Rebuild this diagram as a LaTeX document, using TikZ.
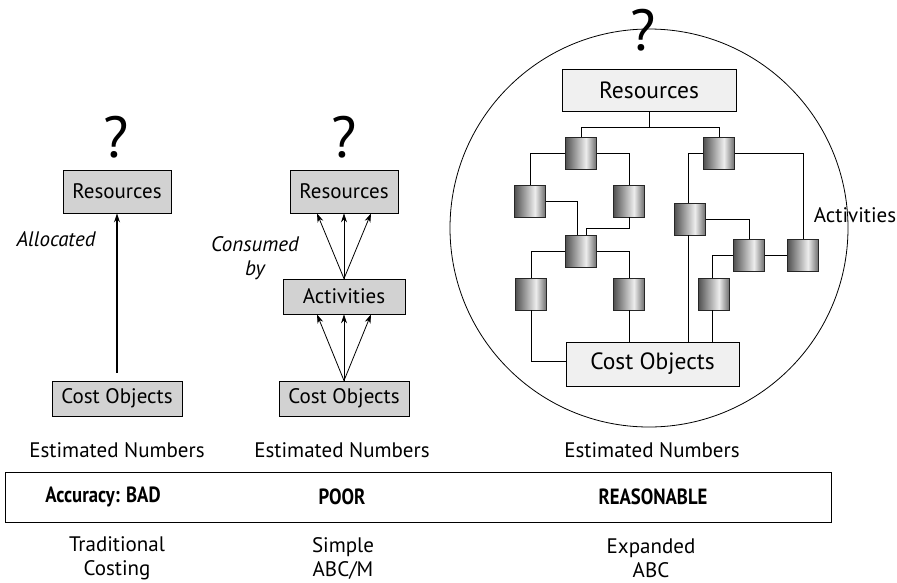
\documentclass[tikz,border=0pt]{standalone}
\usepackage{fontspec}
\setmainfont{PT Sans}
\usetikzlibrary{arrows.meta}

\pgfdeclarehorizontalshading{actshade}{100bp}{rgb(0bp)=(0.32,0.32,0.32); rgb(25bp)=(0.32,0.32,0.32); rgb(58bp)=(0.93,0.93,0.93); rgb(75bp)=(0.42,0.42,0.42); rgb(100bp)=(0.42,0.42,0.42)}

\tikzset{
	grey box/.style={draw,fill=gray!35,inner sep=0,font=\fontsize{21}{25}\selectfont},
	light box/.style={draw,fill=gray!12,inner sep=0,font=\fontsize{23.5}{27}\selectfont},
	act/.style={draw=black!85,shading=actshade,minimum width=31,minimum height=32,inner sep=0},
	query/.style={font=\fontsize{58}{62}\selectfont},
	caption/.style={font=\fontsize{21}{24}\selectfont,align=center},
	rating/.style={font=\fontsize{22}{26}\selectfont\bfseries},
	link/.style={-{Stealth[length=9,width=6]}}
}

\begin{document}
\begin{tikzpicture}[x=1pt,y=-1pt,line width=0.8]
\useasboundingbox (0,0) rectangle (897,582);

% Traditional costing:

\node[query] (Q1) at (116,137) {?};
\node[grey box,minimum width=108,minimum height=43] (R1) at (117,191.5) {Resources};
\node[grey box,minimum width=130,minimum height=35] (C1) at (117,398.5) {Cost Objects};
\draw[link,line width=1.5] ([yshift=8]C1.north) -- (R1.south);
\node[caption,font=\fontsize{21}{24}\selectfont\itshape] (L1) at (56,239) {Allocated};

% Simple ABC/M:

\node[query] (Q2) at (344,137) {?};
\node[grey box,minimum width=108,minimum height=43] (R2) at (344,191.5) {Resources};
\node[grey box,minimum width=122,minimum height=35] (V2) at (344,296.5) {Activities};
\node[grey box,minimum width=130,minimum height=35] (C2) at (344,398.5) {Cost Objects};
\foreach \s in {-27,0,27} {
	\draw[link] (V2.north) -- ([xshift=\s]R2.south);
	\draw[link] (C2.north) -- ([xshift=\s]V2.south);
}
\node[caption,font=\fontsize{21}{24}\selectfont\itshape] (L2) at (255,258) {Consumed\\by};

% Expanded ABC:

\node[draw,circle,minimum size=398,inner sep=0] (E) at (649,228) {};
\node[query] (Q3) at (643,30) {?};
\node[light box,minimum width=174,minimum height=42] (R3) at (649,90) {Resources};
\node[light box,minimum width=173,minimum height=44] (C3) at (652.5,364) {Cost Objects};
\node[caption] (L3) at (855,215) {Activities};

\foreach \n/\x/\y in {1/581/153, 2/719/153, 3/530/201, 4/629/201, 5/581/251, 6/690/219,
	7/749/255, 8/803/255, 9/531/294, 10/629/294, 11/714/294} {
	\node[act] (A\n) at (\x,\y) {};
}

\draw (R3.south) -- ++(0,16) coordinate (J);
\draw (A1.north) |- (J) -| (A2.north);
\draw (A1.west) -| (A3.north);
\draw (A1.east) -| (A4.north);
\draw (A3.east) -| ([xshift=-4]A5.north);
\draw (A4.south) -- ++(0,11) -| ([xshift=5]A5.north);
\draw (A5.west) -| (A9.north);
\draw (A5.east) -| (A10.north);
\draw ([yshift=3]C3.west) -| (A9.south);
\draw (A10.south) -- (A10.south |- C3.north);
\draw (A2.west) -| ([xshift=-2]A6.north);
\draw ([xshift=-2]A6.south) -- ([xshift=-2]A6.south |- C3.north);
\draw (A2.east) -| (A8.north);
\draw (A6.east) -| (A7.north);
\draw (A7.east) -- (A8.west);
\draw (A7.west) -| ([xshift=-2]A11.north);
\draw ([xshift=-2]A11.south) -- ([xshift=-2]A11.south |- C3.north);

% Bottom rows:

\node[caption] (N1) at (117,450) {Estimated Numbers};
\node[caption] (N2) at (342,450) {Estimated Numbers};
\node[caption] (N3) at (652,450) {Estimated Numbers};

\node[draw,minimum width=826,minimum height=50,inner sep=0] (band) at (418,497) {};
\node[rating] (G1) at (103,497) {\scalebox{0.85}[1]{Accuracy: BAD}};
\node[rating] (G2) at (342,497) {\scalebox{0.85}[1]{POOR}};
\node[rating] (G3) at (653,497) {\scalebox{0.85}[1]{REASONABLE}};

\node[caption] (M1) at (117,558.5) {Traditional\\Costing};
\node[caption] (M2) at (343,558.5) {Simple\\ABC/M};
\node[caption] (M3) at (651,558.5) {Expanded\\ABC};

\end{tikzpicture}
\end{document}
